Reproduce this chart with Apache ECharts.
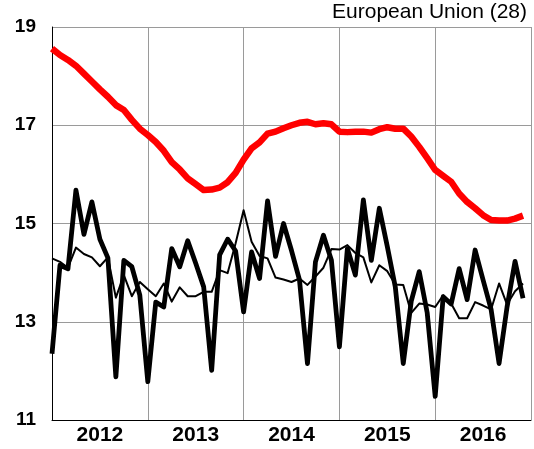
<!DOCTYPE html>
<html>
<head>
<meta charset="utf-8">
<script src="https://cdn.jsdelivr.net/npm/echarts@6/dist/echarts.min.js"></script>
<style>
html,body{margin:0;padding:0;background:#fff;}
#c{width:534px;height:449px;}
</style>
</head>
<body>
<div id="c"></div>
<script>
// Month index 0 = Jan 2012
var yearLabels = ['2012', '2013', '2014', '2015', '2016'];
var titleText = 'European Union (28)';

// Thick red line (trend)
var trendValues = [
  18.56, 18.43, 18.33, 18.21, 18.05, 17.89, 17.73, 17.58, 17.41, 17.31, 17.11, 16.93,
  16.80, 16.66, 16.48, 16.25, 16.10, 15.92, 15.80, 15.68, 15.69, 15.73, 15.84, 16.03,
  16.30, 16.53, 16.65, 16.83, 16.87, 16.94, 17.00, 17.05, 17.07, 17.02, 17.04, 17.02,
  16.87, 16.86, 16.87, 16.87, 16.85, 16.92, 16.96, 16.93, 16.93, 16.77, 16.56, 16.33,
  16.09, 15.97, 15.85, 15.61, 15.44, 15.31, 15.17, 15.07, 15.06, 15.06, 15.10, 15.16
];

// Thick black line (monthly, unadjusted)
var monthlyValues = [
  12.35, 14.15, 14.08, 15.68, 14.78, 15.44, 14.68, 14.30, 11.88, 14.25, 14.12, 13.54,
  11.78, 13.40, 13.30, 14.49, 14.12, 14.65, 14.19, 13.71, 12.01, 14.36, 14.68, 14.44,
  13.20, 14.42, 13.88, 15.46, 14.33, 15.00, 14.45, 13.85, 12.15, 14.22, 14.76, 14.25,
  12.49, 14.49, 13.95, 15.48, 14.25, 15.31, 14.53, 13.71, 12.15, 13.42, 14.02, 13.18,
  11.48, 13.51, 13.36, 14.08, 13.45, 14.46, 13.85, 13.25, 12.15, 13.30, 14.23, 13.48
];

// Thin black line (seasonally adjusted)
var adjustedValues = [
  14.29, 14.22, 14.10, 14.51, 14.38, 14.31, 14.13, 14.31, 13.49, 13.95, 13.52, 13.81,
  13.66, 13.52, 13.78, 13.41, 13.70, 13.52, 13.52, 13.61, 13.61, 14.05, 13.99, 14.60,
  15.27, 14.63, 14.34, 14.29, 13.90, 13.86, 13.81, 13.88, 13.75, 13.92, 14.10, 14.48,
  14.47, 14.56, 14.40, 14.31, 13.80, 14.15, 14.03, 13.76, 13.75, 13.18, 13.37, 13.35,
  13.30, 13.54, 13.37, 13.07, 13.07, 13.40, 13.33, 13.25, 13.78, 13.35, 13.62, 13.78
];

function toPairs(arr) {
  return arr.map(function (v, i) { return [i, v]; });
}

var FONT = '"Liberation Sans", Arial, Helvetica, sans-serif';
var chart = echarts.init(document.getElementById('c'), null, {renderer: 'canvas'});

chart.setOption({
  animation: false,
  backgroundColor: '#ffffff',
  title: {
    text: titleText,
    right: 7,
    top: 2,
    padding: 0,
    textStyle: {fontFamily: FONT, fontSize: 21, fontWeight: 'normal', color: '#000'}
  },
  grid: {left: 52, right: -2, top: 27, bottom: 29, containLabel: false},
  xAxis: [
    {
      type: 'value', min: 0, max: 60, interval: 6,
      axisLine: {show: true, onZero: false, lineStyle: {color: '#000', width: 1}},
      axisTick: {show: false},
      splitLine: {show: false},
      axisLabel: {
        show: true, margin: 5,
        fontFamily: FONT, fontSize: 21, fontWeight: 'bold', color: '#000',
        formatter: function (v) {
          var k = Math.round(v);
          if (k % 12 === 6) { return yearLabels[(k - 6) / 12] || ''; }
          return '';
        }
      }
    },
    {
      type: 'value', min: 0, max: 60, interval: 12, position: 'bottom',
      axisLine: {show: false}, axisTick: {show: false}, axisLabel: {show: false},
      splitLine: {show: true, lineStyle: {color: '#9a9a9a', width: 1}}
    }
  ],
  yAxis: {
    type: 'value', min: 11, max: 19, interval: 2,
    axisLine: {show: true, lineStyle: {color: '#000', width: 1}},
    axisTick: {show: false},
    splitLine: {show: true, lineStyle: {color: '#9a9a9a', width: 1}},
    axisLabel: {margin: 16, fontFamily: FONT, fontSize: 19, fontWeight: 'bold', color: '#000'}
  },
  series: [
    {
      type: 'line', xAxisIndex: 0, data: toPairs(adjustedValues),
      showSymbol: false, symbol: 'none', z: 2,
      lineStyle: {color: '#000', width: 2, join: 'round'}
    },
    {
      type: 'line', xAxisIndex: 0, data: toPairs(monthlyValues),
      showSymbol: false, symbol: 'none', z: 3,
      lineStyle: {color: '#000', width: 4.8, join: 'round'}
    },
    {
      type: 'line', xAxisIndex: 0, data: toPairs(trendValues),
      showSymbol: false, symbol: 'none', z: 4,
      lineStyle: {color: '#ff0000', width: 6.5, join: 'round'}
    }
  ]
});
</script>
</body>
</html>
